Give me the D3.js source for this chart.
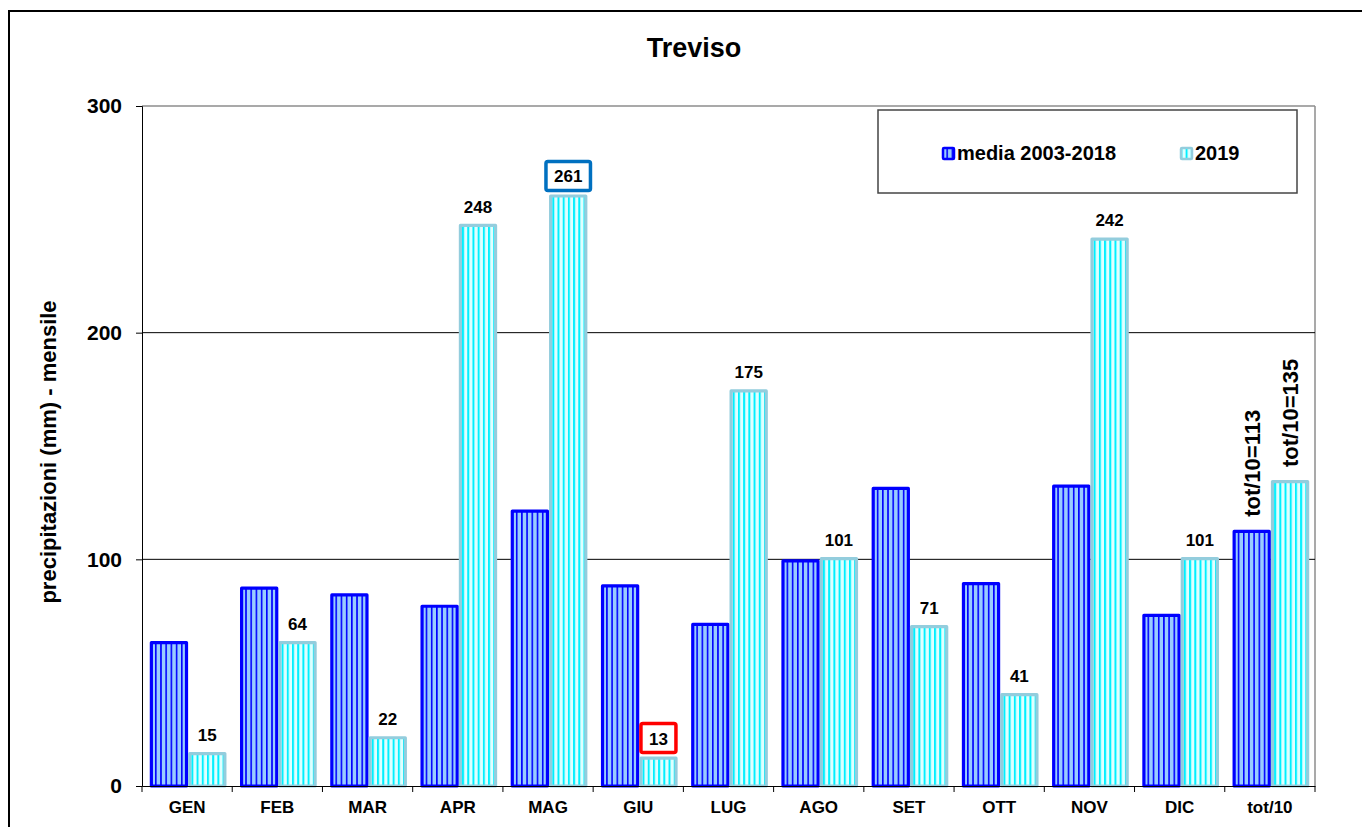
<!DOCTYPE html>
<html>
<head>
<meta charset="utf-8">
<script src="https://cdn.jsdelivr.net/npm/d3@7/dist/d3.min.js"></script>
<style>
  html, body { margin: 0; padding: 0; background: #fff; }
  svg { display: block; font-family: "Liberation Sans", Arial, sans-serif; font-weight: bold; }
</style>
</head>
<body>
<svg id="chart" width="1362" height="827"></svg>
<script>
// Monthly precipitation, Treviso
const categories = ["GEN", "FEB", "MAR", "APR", "MAG", "GIU", "LUG", "AGO", "SET", "OTT", "NOV", "DIC", "tot/10"];
const media = [64, 88, 85, 80, 122, 89, 72, 100, 132, 90, 133, 76, 113];
const anno2019 = [15, 64, 22, 248, 261, 13, 175, 101, 71, 41, 242, 101, 135];
const seriesNames = ["media 2003-2018", "2019"];
const yTicks = [0, 100, 200, 300];
const chartTitle = "Treviso";
const yTitle = "precipitazioni (mm) - mensile";

const svg = d3.select("#chart");
const margin = { left: 142, right: 1315, top: 106, bottom: 786 };

// patterns for the striped bar fills
const defs = svg.append("defs");
function stripes(id, bg, line, lw) {
  const p = defs.append("pattern").attr("id", id)
    .attr("patternUnits", "userSpaceOnUse").attr("width", 5.2).attr("height", 10);
  p.append("rect").attr("width", 5.2).attr("height", 10).attr("fill", bg);
  p.append("rect").attr("x", 0).attr("width", lw).attr("height", 10).attr("fill", line);
}
stripes("pMedia", "#99ccff", "#0000ff", 1.6);
stripes("p2019", "#e0ffff", "#00f0ff", 2);

const styles = [
  { fill: "url(#pMedia)", stroke: "#0000ff" },
  { fill: "url(#p2019)", stroke: "#93cddd" }
];

// outer frame
svg.append("rect").attr("x", 9).attr("y", 11).attr("width", 1400).attr("height", 900)
  .attr("fill", "none").attr("stroke", "#000").attr("stroke-width", 2);

const x = d3.scaleBand().domain(categories).range([margin.left, margin.right]).paddingInner(0).paddingOuter(0);
const groupW = x.bandwidth() * 0.85;
const x1 = d3.scaleBand().domain([0, 1]).range([0, groupW]);
const y = d3.scaleLinear().domain([0, 300]).range([margin.bottom, margin.top]);
const groupLeft = c => x(c) + (x.bandwidth() - groupW) / 2 + 1;

// plot-area border (top and right)
svg.append("line").attr("x1", margin.left).attr("x2", margin.right)
  .attr("y1", y(300)).attr("y2", y(300)).attr("stroke", "#8c8c8c").attr("stroke-width", 1.5);
svg.append("line").attr("x1", margin.right).attr("x2", margin.right)
  .attr("y1", y(300)).attr("y2", y(0)).attr("stroke", "#8c8c8c").attr("stroke-width", 1.5);

// gridlines
svg.append("g").selectAll("line").data(yTicks.filter(t => t > 0 && t < 300)).join("line")
  .attr("x1", margin.left).attr("x2", margin.right)
  .attr("y1", d => y(d)).attr("y2", d => y(d))
  .attr("stroke", "#000").attr("stroke-width", 1);

// y axis
const yAxis = svg.append("g").attr("transform", `translate(${margin.left},0)`)
  .call(d3.axisLeft(y).tickValues(yTicks).tickSize(6).tickPadding(14).tickFormat(d3.format("d")));
yAxis.select(".domain").attr("stroke", "#000");
yAxis.selectAll("text").attr("font-size", 21).attr("font-weight", "bold").attr("fill", "#000")
  .attr("font-family", "Liberation Sans, Arial, sans-serif");

// bars
const groups = svg.append("g").selectAll("g").data(categories).join("g")
  .attr("transform", d => `translate(${groupLeft(d)},0)`);

const sw = 3.2;
[media, anno2019].forEach((vals, s) => {
  groups.append("rect")
    .attr("x", x1(s) + sw / 2)
    .attr("width", x1.bandwidth() - sw)
    .attr("y", (d, i) => y(vals[i]) + sw / 2)
    .attr("height", (d, i) => y(0) - y(vals[i]) - sw / 2)
    .attr("fill", styles[s].fill)
    .attr("stroke", styles[s].stroke)
    .attr("stroke-width", sw)
    .attr("stroke-linejoin", "round");
});

// x axis
const xAxis = svg.append("g").attr("transform", `translate(0,${y(0)})`)
  .call(d3.axisBottom(x).tickSize(0).tickPadding(15));
xAxis.select(".domain").attr("stroke", "#000");
xAxis.selectAll("text").attr("font-size", 17).attr("font-weight", "bold").attr("fill", "#000")
  .attr("font-family", "Liberation Sans, Arial, sans-serif");
const bounds = categories.map(c => x(c)).concat([x(categories[categories.length - 1]) + x.bandwidth()]);
xAxis.selectAll("line.sep").data(bounds).join("line").attr("class", "sep")
  .attr("x1", d => d).attr("x2", d => d).attr("y1", 0).attr("y2", 6).attr("stroke", "#000");

// value labels for 2019 (monthly); wettest and driest months boxed
const labels = svg.append("g").attr("font-size", 17).attr("text-anchor", "middle").attr("fill", "#000");
const last = categories.length - 1;
const monthly = anno2019.slice(0, last);
categories.forEach((c, i) => {
  if (i === last) return;
  const cx = groupLeft(c) + x1(1) + x1.bandwidth() / 2;
  const v = anno2019[i];
  const boxed = v === d3.max(monthly) ? "#0070c0" : (v === d3.min(monthly) ? "#ff0000" : null);
  if (boxed) {
    const bw = String(v).length * 9.5 + 16;
    labels.append("rect").attr("x", cx - bw / 2).attr("y", y(v) - 33).attr("width", bw).attr("height", 29)
      .attr("rx", 2).attr("fill", "#fff").attr("stroke", boxed).attr("stroke-width", 3.5);
    labels.append("text").attr("x", cx).attr("y", y(v) - 12).text(v);
  } else {
    labels.append("text").attr("x", cx).attr("y", y(v) - 11).text(v);
  }
});

// rotated totals for the tot/10 group
[media, anno2019].forEach((vals, s) => {
  const cx = groupLeft(categories[last]) + x1(s) + x1.bandwidth() / 2;
  const v = vals[last];
  svg.append("text")
    .attr("transform", `translate(${cx + 8},${y(v) - 13}) rotate(-90)`)
    .attr("font-size", 22).attr("fill", "#000")
    .text(`tot/10=${v}`);
});

// title
svg.append("text").attr("x", 694).attr("y", 57).attr("text-anchor", "middle")
  .attr("font-size", 27).attr("fill", "#000").text(chartTitle);

// y title
svg.append("text").attr("transform", "translate(56,452) rotate(-90)")
  .attr("text-anchor", "middle").attr("font-size", 22).attr("fill", "#000").text(yTitle);

// legend
const lg = svg.append("g");
lg.append("rect").attr("x", 878).attr("y", 110).attr("width", 419).attr("height", 83)
  .attr("fill", "#fff").attr("stroke", "#444").attr("stroke-width", 1.5);
const legendX = [942, 1180];
seriesNames.forEach((name, s) => {
  lg.append("rect").attr("x", legendX[s] + 1).attr("y", 148).attr("width", 11).attr("height", 11)
    .attr("fill", styles[s].fill).attr("stroke", styles[s].stroke).attr("stroke-width", 2.5).attr("rx", 1);
  lg.append("text").attr("x", legendX[s] + 15).attr("y", 160).attr("font-size", 20).attr("fill", "#000").text(name);
});
</script>
</body>
</html>
